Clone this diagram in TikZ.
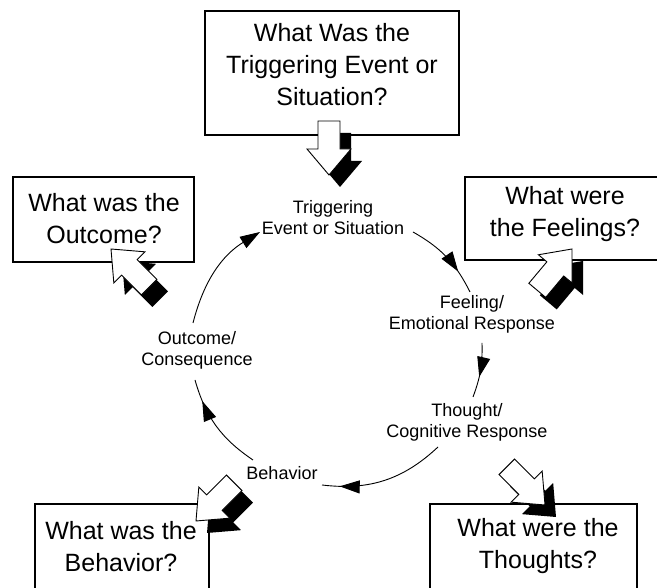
\documentclass[tikz,border=0pt]{standalone}
\usepackage{fontspec}
\setmainfont{Liberation Sans}
\usetikzlibrary{arrows.meta,decorations.markings}
\tikzset{
  qbox/.style={draw, line width=2pt, fill=white, rectangle, inner sep=0pt},
  qtext/.style={align=center, font=\fontsize{25}{32}\selectfont, inner sep=0pt},
  cyc/.style={align=center, font=\fontsize{18}{21}\selectfont, inner sep=1pt},
  cycline/.style={line width=0.9pt},
  midtip/.style={postaction={decorate}, decoration={markings,
      mark=at position #1 with {\arrow{Triangle[length=20pt,width=13pt]}}}},
  shadowfill/.style={fill=black},
  arrowbody/.style={fill=white, draw=black, line width=0.9pt, line join=miter},
}
\newcommand\blockarrow[2]{%
  \begin{scope}[shift={(#1)}, shift={(11,-12)}, rotate=#2]
    \path[shadowfill] (0,0) -- (-26,22) -- (-26,11) -- (-54,11) -- (-54,-11) -- (-26,-11) -- (-26,-22) -- cycle;
  \end{scope}
  \begin{scope}[shift={(#1)}, rotate=#2]
    \path[arrowbody] (0,0) -- (-26,22) -- (-26,11) -- (-54,11) -- (-54,-11) -- (-26,-11) -- (-26,-22) -- cycle;
  \end{scope}}
\begin{document}
\begin{tikzpicture}[x=1pt,y=1pt]
\useasboundingbox (0,0) rectangle (657,588);
\clip (0,0) rectangle (657,588);
\fill[white] (0,0) rectangle (657,588);

% question boxes
\node[qbox, minimum width=254, minimum height=124] (btrig) at (332,515) {};
\node[qtext] (ttrig) at (332,523) {What Was the\\Triggering Event or\\Situation?};
\node[qbox, minimum width=181, minimum height=85] (bout) at (103.5,368.5) {};
\node[qtext] (tout) at (104,369.5) {What was the\\Outcome?};
\node[qbox, minimum width=235, minimum height=83] (bfeel) at (582.5,369.5) {};
\node[qtext] (tfeel) at (565,374) {What were\\the Feelings?};
\node[qbox, minimum width=174, minimum height=116] (bbeh) at (122,26) {};
\node[qtext] (tbeh) at (121,41.5) {What was the\\Behavior?};
\node[qbox, minimum width=207, minimum height=116] (bthou) at (533.5,26) {};
\node[qtext] (tthou) at (538,41.5) {What were the\\Thoughts?};

% cycle labels
\node[cyc] (ltrig) at (333,370) {Triggering\\Event or Situation};
\node[cyc] (lfeel) at (472,274) {Feeling/\\Emotional Response};
\node[cyc] (lthou) at (467,166) {Thought/\\Cognitive Response};
\node[cyc] (lbeh) at (282,115) {Behavior};
\node[cyc] (lout) at (197,238) {Outcome/\\Consequence};

% connector end points
\coordinate (s1) at (413,356); \coordinate (e1) at (470,296);
\coordinate (s2) at (482,245); \coordinate (e2) at (473,191);
\coordinate (s3) at (438,141); \coordinate (e3) at (322,103);
\coordinate (s4) at (253,128); \coordinate (e4) at (195,208);
\coordinate (s5) at (193,265); \coordinate (e5) at (260,356);

\draw[cycline, midtip=0.72] (s1) to[bend left=17] (e1);
\draw[cycline, midtip=0.62] (s2) to[bend left=11] (e2);
\draw[cycline, midtip=0.86] (s3) to[bend left=25] (e3);
\draw[cycline, midtip=0.78] (s4) to[bend left=20] (e4);
\draw[cycline, -{Triangle[length=20pt,width=13pt]}] (s5) to[bend left=22] (e5);

% block arrows
\coordinate (atrig) at (329,413);
\coordinate (aout) at (111,339);
\coordinate (afeel) at (572,339);
\coordinate (abeh) at (196,67);
\coordinate (athou) at (545,83);
\blockarrow{atrig}{-90}
\blockarrow{aout}{135}
\blockarrow{afeel}{50}
\blockarrow{abeh}{225}
\blockarrow{athou}{-45}
\end{tikzpicture}
\end{document}
